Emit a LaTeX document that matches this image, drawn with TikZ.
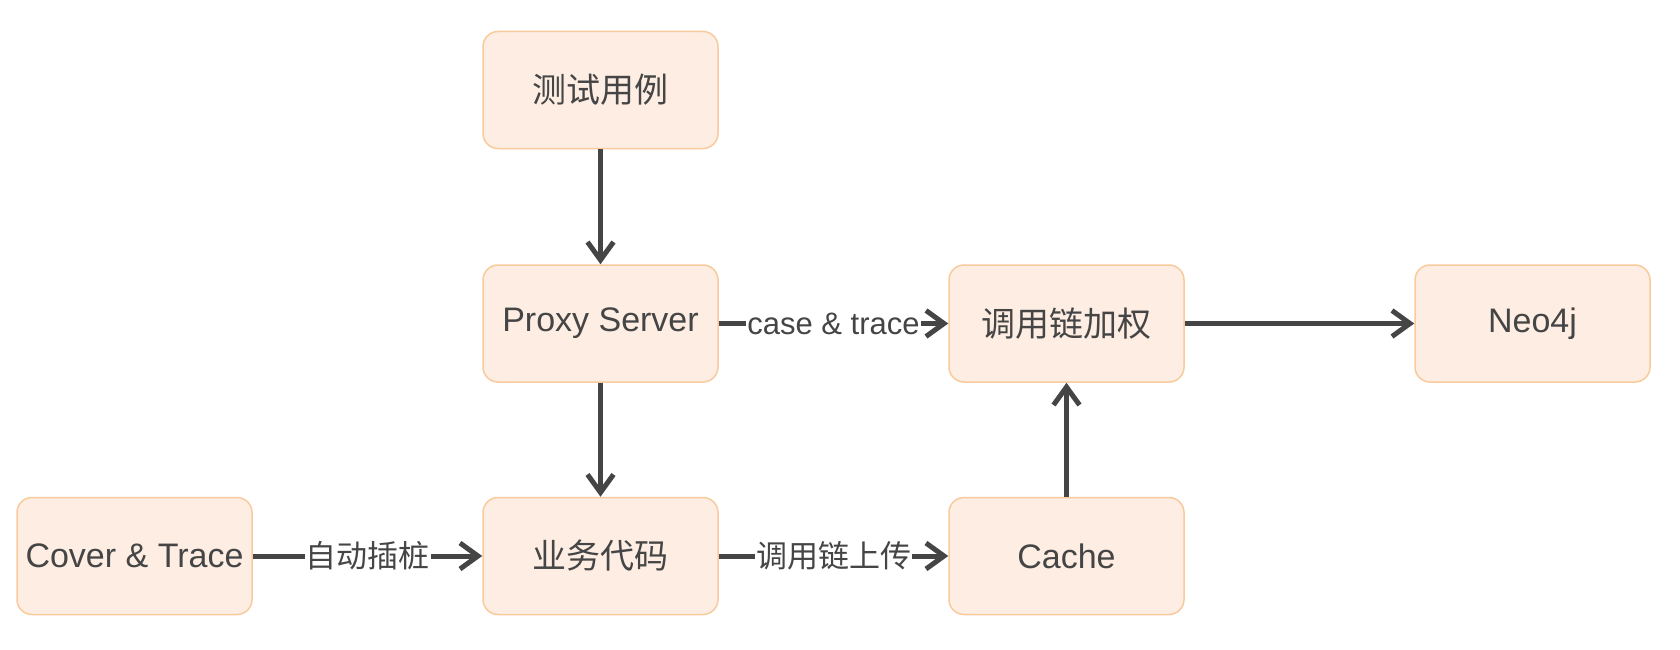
\documentclass[tikz,border=0pt]{standalone}
\usepackage{fontspec}
\setmainfont{Liberation Sans}
\newfontfamily\cjk{Noto Sans CJK SC}
\usetikzlibrary{arrows.meta}

\definecolor{boxfill}{HTML}{FDEDE3}
\definecolor{boxline}{HTML}{F8CA9C}
\definecolor{ink}{HTML}{454545}

\begin{document}
\begin{tikzpicture}[x=1pt,y=-1pt]

        \useasboundingbox (0,0) rectangle (1680,650);

        \begin{scope}[every node/.style={draw=boxline,line width=1.5pt,fill=boxfill,rounded corners=15pt,
            minimum width=235pt,minimum height=117pt,inner sep=0pt,text=ink,font=\fontsize{34}{40}\selectfont}]
          \node (1) at (600.5,90)     {\cjk 测试用例};
          \node (2) at (600.5,323.5)  {Proxy Server};
          \node (3) at (600.5,556)    {\cjk 业务代码};
          \node (4) at (134.5,556)    {Cover \& Trace};
          \node (5) at (1066.5,323.5) {\cjk 调用链加权};
          \node (6) at (1066.5,556)   {Cache};
          \node (7) at (1532.5,323.5) {Neo4j};
        \end{scope}

        \begin{scope}[every node/.style={fill=white,inner sep=1pt,text=ink,font=\fontsize{31}{36}\selectfont}]

          \begin{scope}[every edge/.style={draw=ink,line width=5pt,-{Straight Barb[length=18pt,width=26pt]}}]
            \path (1)  edge (2);
            \path (2)  edge (3);
            \path (2)  edge node {case \& trace} (5);
            \path (4)  edge node {\cjk 自动插桩} (3);
            \path (3)  edge node {\cjk 调用链上传} (6);
            \path (6)  edge (5);
            \path (5)  edge (7);
          \end{scope}
        \end{scope}

      \end{tikzpicture}
\end{document}
